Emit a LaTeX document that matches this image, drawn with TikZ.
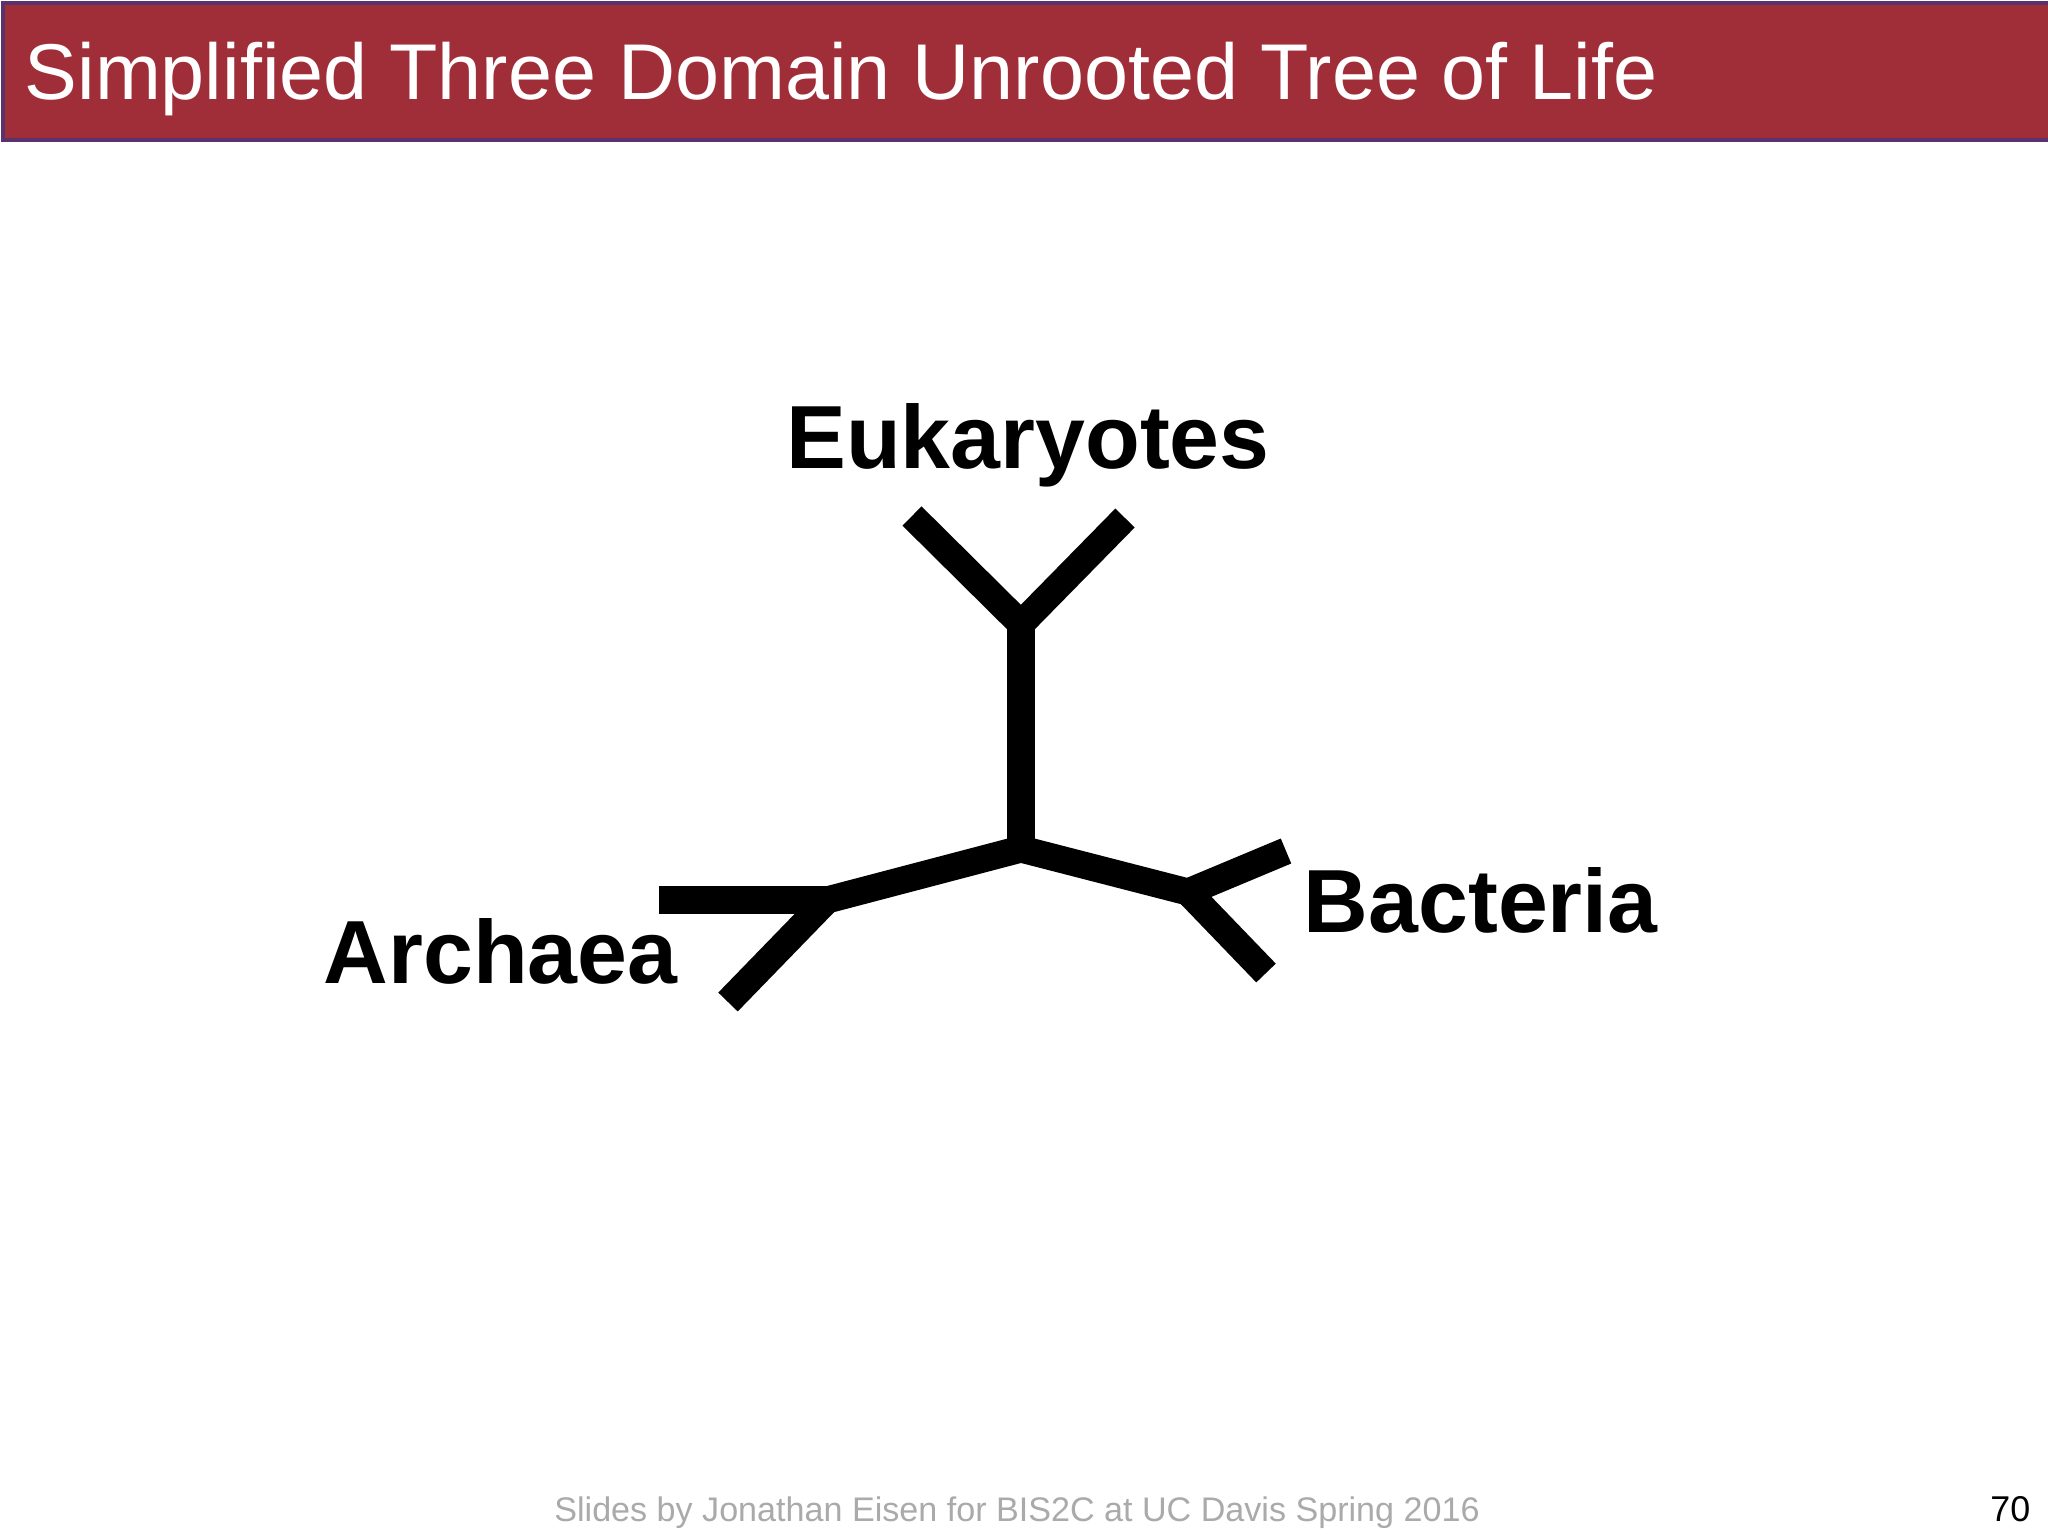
\documentclass[tikz,border=0pt]{standalone}
\usepackage{fontspec}
\setmainfont{Liberation Sans}
\definecolor{titlered}{RGB}{160,46,56}
\definecolor{titleedge}{RGB}{90,50,110}
\definecolor{footgray}{RGB}{170,170,170}

\begin{document}
\begin{tikzpicture}[x=0.01cm, y=-0.01cm]
	\tikzstyle{branch}=[line width=7.7pt]
	\tikzstyle{domainlabel}=[font=\fontsize{25.5}{30}\selectfont\bfseries, inner sep=0pt]

	\useasboundingbox (0,0) rectangle (2048,1536);
	\fill[white] (0,0) rectangle (2048,1536);

	% title bar
	\node[fill=titlered, draw=titleedge, line width=1pt, minimum width=20.46cm, minimum height=1.37cm, anchor=north west, inner sep=0pt](Title_Bar) at (1, 1) {};
	\node[anchor=base west, inner sep=0pt, text=white, font=\fontsize{22.5}{27}\selectfont](Title) at (24, 99) {Simplified Three Domain Unrooted Tree of Life};

	% tree points
	\coordinate (Center) at (1021, 849);
	% eukaryotes
	\coordinate (Euk_Split) at (1021, 624);
	\coordinate (Euk_Left) at (912, 516);
	\coordinate (Euk_Right) at (1125, 518);
	% archaea
	\coordinate (Arc_Split) at (827, 900);
	\coordinate (Arc_Left) at (659, 900);
	\coordinate (Arc_Low) at (728, 1002);
	% bacteria
	\coordinate (Bac_Split) at (1188, 892);
	\coordinate (Bac_Up) at (1286, 851);
	\coordinate (Bac_Low) at (1266, 973);

	% branches
	\draw[branch] (Center) -- (Euk_Split);
	\draw[branch] (Euk_Left) -- (Euk_Split) -- (Euk_Right);
	\draw[branch] (Center) -- (Arc_Split);
	\draw[branch] (Arc_Left) -- (Arc_Split);
	\draw[branch] (Arc_Split) -- (Arc_Low);
	\draw[branch] (Center) -- (Bac_Split);
	\draw[branch] (Bac_Up) -- (Bac_Split) -- (Bac_Low);

	% labels
	\node[domainlabel, anchor=base](Eukaryotes) at (1028, 468) {Eukaryotes};
	\node[domainlabel, anchor=base west](Archaea) at (323, 983) {Archaea};
	\node[domainlabel, anchor=base west](Bacteria) at (1303, 932) {Bacteria};

	% footer
	\node[anchor=base, inner sep=0pt, text=footgray, font=\fontsize{9.7}{12}\selectfont](Footer) at (1017, 1521) {Slides by Jonathan Eisen for BIS2C at UC Davis Spring 2016};
	\node[anchor=base east, inner sep=0pt, font=\fontsize{10.2}{12}\selectfont](Page_Num) at (2031, 1521) {70};
\end{tikzpicture}
\end{document}
